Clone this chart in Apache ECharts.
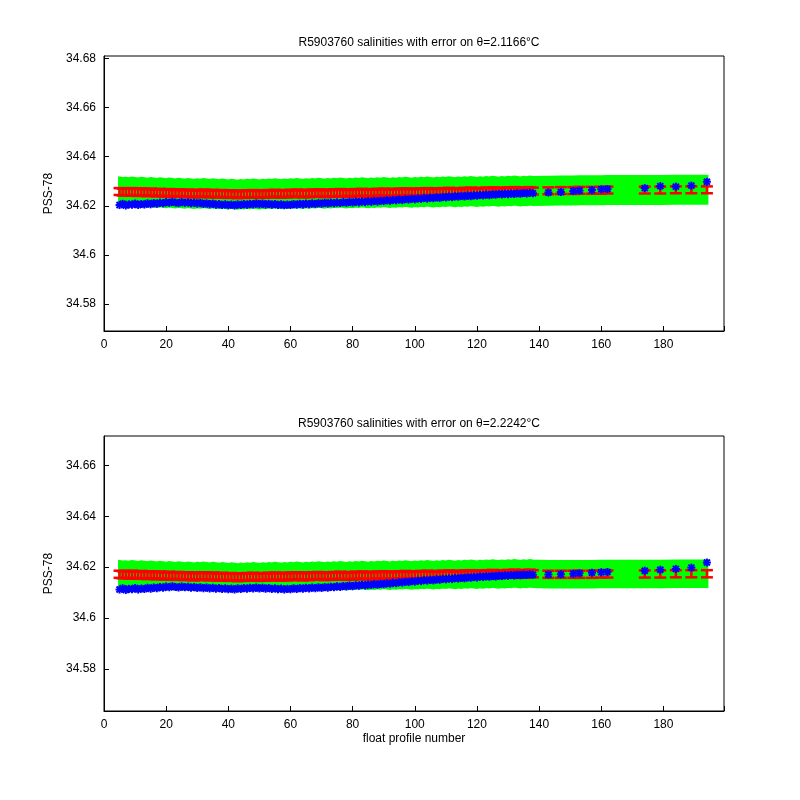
<!DOCTYPE html>
<html>
<head>
<meta charset="utf-8">
<script src="https://cdn.jsdelivr.net/npm/echarts@6/dist/echarts.min.js"></script>
<style>html,body{margin:0;background:#fff}#chart{width:800px;height:800px}</style>
</head>
<body>
<div id="chart"></div>
<script>
// profile numbers
const profiles = [5,6,7,8,9,10,11,12,13,14,15,16,17,18,19,20,21,22,23,24,25,26,27,28,29,30,31,32,33,34,35,36,37,38,39,40,41,42,43,44,45,46,47,48,49,50,51,52,53,54,55,56,57,58,59,60,61,62,63,64,65,66,67,68,69,70,71,72,73,74,75,76,77,78,79,80,81,82,83,84,85,86,87,88,89,90,91,92,93,94,95,96,97,98,99,100,101,102,103,104,105,106,107,108,109,110,111,112,113,114,115,116,117,118,119,120,121,122,123,124,125,126,127,128,129,130,131,132,133,134,135,136,137,138,143,147,151,153,157,160,162,174,179,184,189,194]

// top panel (theta = 2.1166)
const blueTop = [34.6203,34.6208,34.6201,34.6206,34.6204,34.6209,34.6203,34.6207,34.6205,34.6210,
  34.6206,34.6211,34.6208,34.6213,34.6210,34.6215,34.6212,34.6216,34.6213,34.6211,
  34.6215,34.6212,34.6214,34.6210,34.6213,34.6209,34.6212,34.6207,34.6210,34.6206,
  34.6209,34.6204,34.6207,34.6203,34.6206,34.6202,34.6205,34.6201,34.6206,34.6203,
  34.6207,34.6204,34.6208,34.6205,34.6210,34.6206,34.6209,34.6205,34.6208,34.6204,
  34.6207,34.6203,34.6206,34.6202,34.6205,34.6203,34.6207,34.6204,34.6208,34.6205,
  34.6209,34.6206,34.6210,34.6207,34.6211,34.6208,34.6212,34.6209,34.6213,34.6210,
  34.6214,34.6211,34.6215,34.6212,34.6216,34.6213,34.6217,34.6214,34.6218,34.6215,
  34.6219,34.6216,34.6220,34.6217,34.6221,34.6219,34.6223,34.6220,34.6224,34.6222,
  34.6226,34.6223,34.6227,34.6225,34.6229,34.6226,34.6230,34.6228,34.6232,34.6229,
  34.6233,34.6231,34.6235,34.6232,34.6236,34.6234,34.6238,34.6235,34.6239,34.6237,
  34.6240,34.6238,34.6242,34.6239,34.6243,34.6241,34.6244,34.6242,34.6246,34.6243,
  34.6247,34.6245,34.6248,34.6246,34.6249,34.6247,34.6250,34.6248,34.6251,34.6249,
  34.6252,34.6250,34.6253,34.6251,
  34.6254,34.6256,34.6260,34.6262,34.6264,34.6267,34.6268,34.6272,34.6280,34.6278,34.6282,34.6298]
const mapTop = [34.6258,34.6256,34.6257,34.6255,34.6258,34.6256,34.6254,34.6257,34.6255,34.6253,
  34.6256,34.6254,34.6252,34.6255,34.6253,34.6251,34.6254,34.6252,34.6250,34.6253,
  34.6251,34.6249,34.6252,34.6250,34.6248,34.6251,34.6249,34.6252,34.6250,34.6248,
  34.6251,34.6249,34.6247,34.6250,34.6248,34.6246,34.6249,34.6247,34.6245,34.6248,
  34.6246,34.6249,34.6247,34.6250,34.6248,34.6246,34.6249,34.6247,34.6250,34.6248,
  34.6251,34.6249,34.6247,34.6250,34.6248,34.6251,34.6249,34.6252,34.6250,34.6248,
  34.6251,34.6249,34.6252,34.6250,34.6253,34.6251,34.6249,34.6252,34.6250,34.6253,
  34.6251,34.6254,34.6252,34.6250,34.6253,34.6251,34.6254,34.6252,34.6255,34.6253,
  34.6251,34.6254,34.6252,34.6255,34.6253,34.6256,34.6254,34.6252,34.6255,34.6253,
  34.6256,34.6254,34.6257,34.6255,34.6253,34.6256,34.6254,34.6257,34.6255,34.6258,
  34.6256,34.6254,34.6257,34.6255,34.6258,34.6256,34.6259,34.6257,34.6255,34.6258,
  34.6256,34.6259,34.6257,34.6260,34.6258,34.6256,34.6259,34.6257,34.6260,34.6258,
  34.6261,34.6259,34.6257,34.6260,34.6258,34.6261,34.6259,34.6262,34.6260,34.6258,
  34.6261,34.6259,34.6262,34.6260,
  34.6261,34.6262,34.6262,34.6263,34.6263,34.6263,34.6264,34.6264,34.6264,34.6265,34.6265,34.6265]
const errTop = 0.0014
const bandTop = 0.0055

// bottom panel (theta = 2.2242)
const blueBot = [34.6112,34.6117,34.6110,34.6115,34.6113,34.6118,34.6112,34.6116,34.6114,34.6119,
  34.6115,34.6120,34.6117,34.6122,34.6119,34.6124,34.6121,34.6125,34.6122,34.6120,
  34.6124,34.6121,34.6123,34.6119,34.6122,34.6118,34.6121,34.6117,34.6120,34.6116,
  34.6119,34.6115,34.6118,34.6114,34.6117,34.6113,34.6116,34.6112,34.6117,34.6114,
  34.6118,34.6115,34.6119,34.6116,34.6120,34.6116,34.6119,34.6115,34.6118,34.6114,
  34.6117,34.6113,34.6116,34.6112,34.6115,34.6113,34.6117,34.6114,34.6118,34.6115,
  34.6119,34.6116,34.6120,34.6117,34.6121,34.6118,34.6122,34.6119,34.6123,34.6121,
  34.6125,34.6122,34.6126,34.6124,34.6128,34.6125,34.6129,34.6127,34.6131,34.6128,
  34.6132,34.6130,34.6134,34.6131,34.6135,34.6133,34.6137,34.6135,34.6139,34.6137,
  34.6141,34.6139,34.6143,34.6141,34.6145,34.6143,34.6147,34.6145,34.6149,34.6147,
  34.6150,34.6148,34.6152,34.6150,34.6154,34.6152,34.6155,34.6153,34.6157,34.6155,
  34.6158,34.6156,34.6160,34.6158,34.6161,34.6159,34.6163,34.6161,34.6164,34.6162,
  34.6165,34.6163,34.6167,34.6165,34.6168,34.6166,34.6169,34.6167,34.6170,34.6168,
  34.6171,34.6169,34.6172,34.6170,
  34.6171,34.6172,34.6174,34.6176,34.6178,34.6180,34.6181,34.6186,34.6190,34.6193,34.6198,34.6218]
const mapBot = [34.6172,34.6170,34.6171,34.6169,34.6172,34.6170,34.6168,34.6171,34.6169,34.6167,
  34.6170,34.6168,34.6166,34.6169,34.6167,34.6165,34.6168,34.6166,34.6164,34.6167,
  34.6165,34.6163,34.6166,34.6164,34.6162,34.6165,34.6163,34.6166,34.6164,34.6162,
  34.6165,34.6163,34.6161,34.6164,34.6162,34.6160,34.6163,34.6161,34.6159,34.6162,
  34.6160,34.6163,34.6161,34.6164,34.6162,34.6160,34.6163,34.6161,34.6164,34.6162,
  34.6165,34.6163,34.6161,34.6164,34.6162,34.6165,34.6163,34.6166,34.6164,34.6162,
  34.6165,34.6163,34.6166,34.6164,34.6167,34.6165,34.6163,34.6166,34.6164,34.6167,
  34.6165,34.6168,34.6166,34.6164,34.6167,34.6165,34.6168,34.6166,34.6169,34.6167,
  34.6165,34.6168,34.6166,34.6169,34.6167,34.6170,34.6168,34.6166,34.6169,34.6167,
  34.6170,34.6168,34.6171,34.6169,34.6167,34.6170,34.6168,34.6171,34.6169,34.6172,
  34.6170,34.6168,34.6171,34.6169,34.6172,34.6170,34.6173,34.6171,34.6169,34.6172,
  34.6170,34.6173,34.6171,34.6174,34.6172,34.6170,34.6173,34.6171,34.6174,34.6172,
  34.6175,34.6173,34.6171,34.6174,34.6172,34.6175,34.6173,34.6176,34.6174,34.6172,
  34.6175,34.6173,34.6176,34.6174,
  34.6172,34.6172,34.6172,34.6172,34.6172,34.6173,34.6173,34.6173,34.6173,34.6174,34.6174,34.6174]
const errBot = 0.0014
const bandBot = 0.005

const yTicks = ['34.58', '34.6', '34.62', '34.64', '34.66', '34.68']
const xTicks = [0, 20, 40, 60, 80, 100, 120, 140, 160, 180]

const font = 'Liberation Sans, Arial, sans-serif'

function errBars(gi, mapped, err) {
  return {
    type: 'custom', xAxisIndex: gi, yAxisIndex: gi, z: 3,
    data: profiles.map((p, i) => [p, mapped[i] - err, mapped[i] + err]),
    renderItem: (params, api) => {
      const lo = api.coord([api.value(0), api.value(1)])
      const hi = api.coord([api.value(0), api.value(2)])
      const w = 6
      const st = { stroke: '#ff0000', lineWidth: 2.5 }
      return {
        type: 'group', children: [
          { type: 'line', shape: { x1: lo[0], y1: lo[1], x2: hi[0], y2: hi[1] }, style: st },
          { type: 'line', shape: { x1: lo[0] - w, y1: lo[1], x2: lo[0] + w, y2: lo[1] }, style: st },
          { type: 'line', shape: { x1: hi[0] - w, y1: hi[1], x2: hi[0] + w, y2: hi[1] }, style: st }
        ]
      }
    }
  }
}

function stars(gi, vals) {
  return {
    type: 'custom', xAxisIndex: gi, yAxisIndex: gi, z: 4,
    data: profiles.map((p, i) => [p, vals[i]]),
    renderItem: (params, api) => {
      const c = api.coord([api.value(0), api.value(1)])
      const r = 4, d = 3
      const st = { stroke: '#0000ff', lineWidth: 2 }
      return {
        type: 'group', children: [
          { type: 'line', shape: { x1: c[0] - r, y1: c[1], x2: c[0] + r, y2: c[1] }, style: st },
          { type: 'line', shape: { x1: c[0], y1: c[1] - r, x2: c[0], y2: c[1] + r }, style: st },
          { type: 'line', shape: { x1: c[0] - d, y1: c[1] - d, x2: c[0] + d, y2: c[1] + d }, style: st },
          { type: 'line', shape: { x1: c[0] - d, y1: c[1] + d, x2: c[0] + d, y2: c[1] - d }, style: st }
        ]
      }
    }
  }
}

// green envelope drawn as one polygon through all profiles
function band(gi, mapped, half) {
  return {
    type: 'custom', xAxisIndex: gi, yAxisIndex: gi, z: 1,
    data: profiles.map((p, i) => [p, mapped[i]]),
    renderItem: (params, api) => {
      if (params.dataIndex !== 0) return null
      const up = profiles.map((p, i) => api.coord([p, mapped[i] + half]))
      const dn = profiles.map((p, i) => api.coord([p, mapped[i] - half])).reverse()
      return {
        type: 'polygon', shape: { points: up.concat(dn) },
        style: { fill: '#00ff00', stroke: '#00ff00', lineWidth: 3 }
      }
    }
  }
}

function xAxis(gi, name) {
  return {
    type: 'value', gridIndex: gi, min: 0, max: 199.5, interval: 20,
    name: name, nameLocation: 'middle', nameGap: 22,
    nameTextStyle: { fontFamily: font, fontSize: 12, color: '#000' },
    axisLine: { lineStyle: { color: '#000' } },
    axisTick: { inside: true, length: 5, lineStyle: { color: '#000' } },
    axisLabel: { color: '#000', fontFamily: font, fontSize: 12, customValues: xTicks },
    splitLine: { show: false }
  }
}

function yAxis(gi, min, max) {
  const vals = yTicks.map(Number).filter(v => v >= min && v <= max)
  return {
    type: 'value', gridIndex: gi, min: min, max: max,
    name: 'PSS-78', nameLocation: 'middle', nameGap: 46,
    nameTextStyle: { fontFamily: font, fontSize: 12, color: '#000' },
    axisLine: { lineStyle: { color: '#000' } },
    axisTick: { inside: true, length: 5, lineStyle: { color: '#000' }, customValues: vals },
    axisLabel: { color: '#000', fontFamily: font, fontSize: 12, customValues: vals,
      formatter: v => String(Math.round(v * 100) / 100) },
    splitLine: { show: false }
  }
}

const chart = echarts.init(document.getElementById('chart'))
chart.setOption({
  animation: false,
  backgroundColor: '#fff',
  title: [
    { text: 'R5903760 salinities with error on θ=2.1166°C', left: 414, top: 32, textAlign: 'center',
      textStyle: { fontFamily: font, fontSize: 12, fontWeight: 'normal', color: '#000' } },
    { text: 'R5903760 salinities with error on θ=2.2242°C', left: 414, top: 413, textAlign: 'center',
      textStyle: { fontFamily: font, fontSize: 12, fontWeight: 'normal', color: '#000' } }
  ],
  grid: [
    { left: 104, top: 56, width: 620, height: 275, show: true, borderColor: '#000', borderWidth: 1 },
    { left: 104, top: 436, width: 620, height: 275, show: true, borderColor: '#000', borderWidth: 1 }
  ],
  xAxis: [xAxis(0, ''), xAxis(1, 'float profile number')],
  yAxis: [yAxis(0, 34.569, 34.681), yAxis(1, 34.5635, 34.6715)],
  series: [
    band(0, mapTop, bandTop),
    errBars(0, mapTop, errTop),
    stars(0, blueTop),
    band(1, mapBot, bandBot),
    errBars(1, mapBot, errBot),
    stars(1, blueBot)
  ]
})
</script>
</body>
</html>
